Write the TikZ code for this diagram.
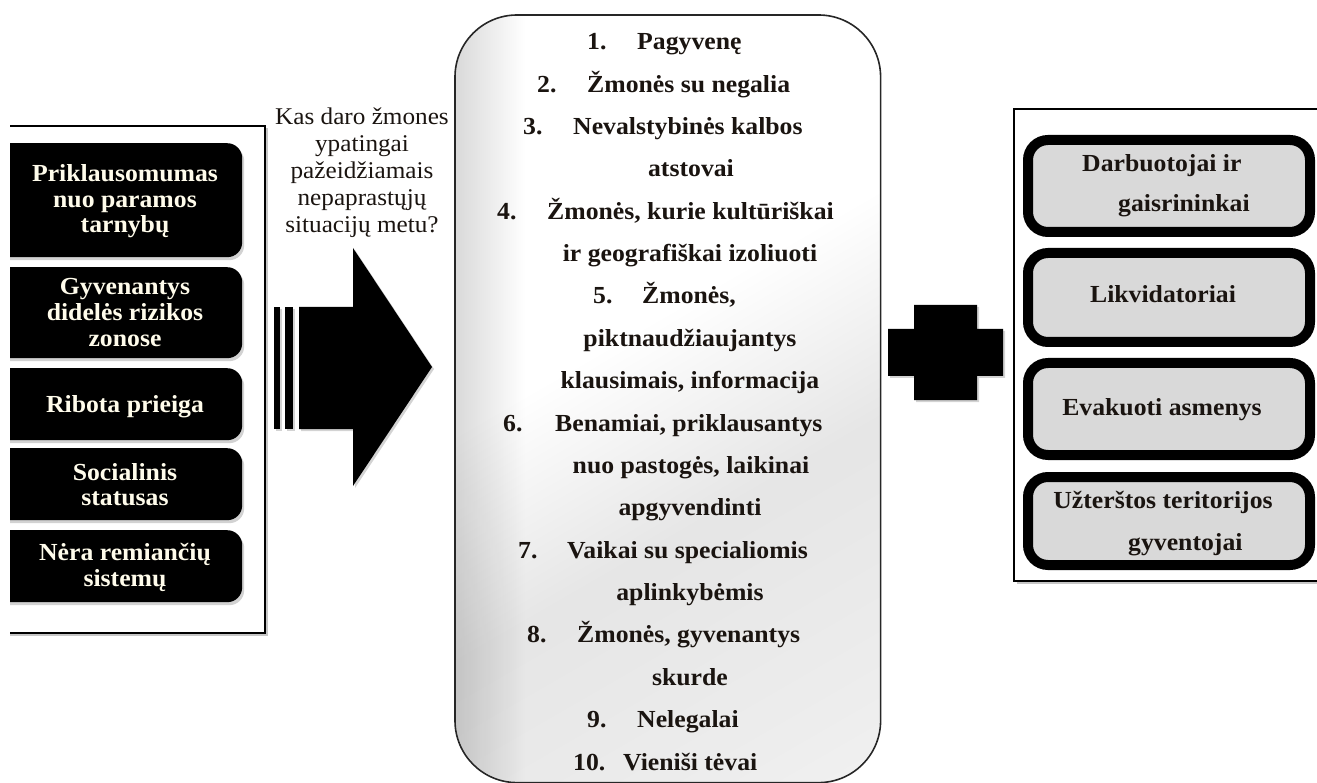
\documentclass[tikz,border=0pt]{standalone}
\usepackage{fontspec}
\setmainfont{Liberation Serif}[FakeStretch=1.05]
\usetikzlibrary{shadows,fadings}
\pgfdeclarehorizontalshading{panelshade}{100bp}{color(0bp)=(white); color(44bp)=(white); color(60bp)=(black!10); color(78bp)=(black!7); color(100bp)=(black!2)}
\definecolor{ink}{HTML}{1A1410}
\definecolor{cream}{HTML}{FFFCEB}
\definecolor{boxgray}{HTML}{D9D9D9}
\begin{document}
\begin{tikzpicture}[x=1pt,y=-1pt,
  bold/.style={inner sep=0pt, font=\fontsize{24.5}{26}\selectfont\bfseries, text=ink},
  plain/.style={inner sep=0pt, font=\fontsize{24}{26}\selectfont, text=ink},
  whitetxt/.style={bold, text=cream},
  frame/.style={draw=black, line width=2, fill=white, inner sep=0pt,
    drop shadow={shadow xshift=2.5pt, shadow yshift=-2.5pt, opacity=.45}},
  darkbox/.style={fill=black, rounded corners=15, inner sep=0pt, minimum width=252,
    drop shadow={shadow xshift=2pt, shadow yshift=-3pt, opacity=.35}},
  graybox/.style={draw=black, line width=10, fill=boxgray, rounded corners=20,
    inner sep=0pt, minimum width=282},
  shape shadow/.style={drop shadow={shadow xshift=2pt, shadow yshift=-2pt, opacity=.35}}
]
\useasboundingbox (0,0) rectangle (1317,783);
\clip (10,0) rectangle (1317,783);

% outer frames
\node[frame, anchor=north west, minimum width=284, minimum height=507] (lframe) at (-20,125) {};
\node[frame, anchor=north west, minimum width=330, minimum height=472] (rframe) at (1013,108) {};

% left column of dark boxes
\node[darkbox, anchor=north west, minimum height=114] (b1) at (-10,143) {};
\node[darkbox, anchor=north west, minimum height=91]  (b2) at (-10,267) {};
\node[darkbox, anchor=north west, minimum height=72]  (b3) at (-10,368) {};
\node[darkbox, anchor=north west, minimum height=72]  (b4) at (-10,448) {};
\node[darkbox, anchor=north west, minimum height=72]  (b5) at (-10,530) {};

\node[whitetxt, anchor=base] (b1a) at (125,182)   {Priklausomumas};
\node[whitetxt, anchor=base] (b1b) at (125,207.5) {nuo paramos};
\node[whitetxt, anchor=base] (b1c) at (125,233)   {tarnybų};
\node[whitetxt, anchor=base] (b2a) at (125,295)   {Gyvenantys};
\node[whitetxt, anchor=base] (b2b) at (125,321)   {didelės rizikos};
\node[whitetxt, anchor=base] (b2c) at (125,347)   {zonose};
\node[whitetxt, anchor=base] (b3a) at (125,413)   {Ribota prieiga};
\node[whitetxt, anchor=base] (b4a) at (125,480)   {Socialinis};
\node[whitetxt, anchor=base] (b4b) at (125,505)   {statusas};
\node[whitetxt, anchor=base] (b5a) at (125,560)   {Nėra remiančių};
\node[whitetxt, anchor=base] (b5b) at (125,586)   {sistemų};

% question above the arrow
\node[plain, anchor=base] (q1) at (362,125)   {Kas daro žmones};
\node[plain, anchor=base] (q2) at (362,151.8) {ypatingai};
\node[plain, anchor=base] (q3) at (362,178.6) {pažeidžiamais};
\node[plain, anchor=base] (q4) at (362,205.4) {nepaprastųjų};
\node[plain, anchor=base] (q5) at (362,232.2) {situacijų metu?};

% striped block arrow
\fill[shape shadow] (274,307) rectangle (280,429);
\fill[shape shadow] (285,307) rectangle (293,429);
\fill[shape shadow] (299,307) -- (353,307) -- (353,248) -- (432,367)
  -- (353,486) -- (353,429) -- (299,429) -- cycle;

% central list panel
\node[line width=1.6, rounded corners=62, shade, shading=panelshade,
  shading angle=-60, anchor=north west, minimum width=424, minimum height=766,
  inner sep=0pt] (panel) at (455,15) {};
\begin{scope}
  \clip[rounded corners=62] (panel.north west) rectangle (panel.south east);
  \fill[black, opacity=.15, path fading=east] (panel.north west) rectangle ([xshift=70pt]panel.south west);
\end{scope}
\draw[black!85, line width=1.6, rounded corners=62] (panel.north west) rectangle (panel.south east);

\node[bold, anchor=base west] (n1)  at (587,50)    {1.};
\node[bold, anchor=base west] (t1)  at (637,50)    {Pagyvenę};
\node[bold, anchor=base west] (n2)  at (537,92.4)  {2.};
\node[bold, anchor=base west] (t2)  at (587,92.4)  {Žmonės su negalia};
\node[bold, anchor=base west] (n3)  at (523,134.7) {3.};
\node[bold, anchor=base west] (t3)  at (573,134.7) {Nevalstybinės kalbos};
\node[bold, anchor=base]      (t3b) at (691,177)   {atstovai};
\node[bold, anchor=base west] (n4)  at (497,219.4) {4.};
\node[bold, anchor=base west] (t4)  at (547,219.4) {Žmonės, kurie kultūriškai};
\node[bold, anchor=base]      (t4b) at (690,261.8) {ir geografiškai izoliuoti};
\node[bold, anchor=base west] (n5)  at (593,304)   {5.};
\node[bold, anchor=base west] (t5)  at (642,304)   {Žmonės,};
\node[bold, anchor=base]      (t5b) at (690,346.5) {piktnaudžiaujantys};
\node[bold, anchor=base]      (t5c) at (690,388.8) {klausimais, informacija};
\node[bold, anchor=base west] (n6)  at (503,431)   {6.};
\node[bold, anchor=base west] (t6)  at (555,431)   {Benamiai, priklausantys};
\node[bold, anchor=base]      (t6b) at (691,473.5) {nuo pastogės, laikinai};
\node[bold, anchor=base]      (t6c) at (690,515.9) {apgyvendinti};
\node[bold, anchor=base west] (n7)  at (518,558)   {7.};
\node[bold, anchor=base west] (t7)  at (567,558)   {Vaikai su specialiomis};
\node[bold, anchor=base]      (t7b) at (690,600.6) {aplinkybėmis};
\node[bold, anchor=base west] (n8)  at (527,642.9) {8.};
\node[bold, anchor=base west] (t8)  at (577,642.9) {Žmonės, gyvenantys};
\node[bold, anchor=base]      (t8b) at (690,685)   {skurde};
\node[bold, anchor=base west] (n9)  at (587,727.6) {9.};
\node[bold, anchor=base west] (t9)  at (637,727.6) {Nelegalai};
\node[bold, anchor=base west] (n10) at (573,770)   {10.};
\node[bold, anchor=base west] (t10) at (623,770)   {Vieniši tėvai};

% plus sign
\fill[shape shadow] (914,305) -- (977,305) -- (977,329) -- (1003,329) -- (1003,376)
  -- (977,376) -- (977,400) -- (914,400) -- (914,376) -- (888,376) -- (888,329)
  -- (914,329) -- cycle;

% right column of outlined boxes
\node[graybox, anchor=north west, minimum height=92] (r1) at (1023,135) {};
\node[graybox, anchor=north west, minimum height=89] (r2) at (1023,248) {};
\node[graybox, anchor=north west, minimum height=92] (r3) at (1023,358) {};
\node[graybox, anchor=north west, minimum height=88] (r4) at (1023,472) {};

\node[bold, anchor=base west] (r1a) at (1082,172) {Darbuotojai ir};
\node[bold, anchor=base west] (r1b) at (1118,212) {gaisrininkai};
\node[bold, anchor=base]      (r2a) at (1163,303) {Likvidatoriai};
\node[bold, anchor=base]      (r3a) at (1162,415) {Evakuoti asmenys};
\node[bold, anchor=base]      (r4a) at (1163,508) {Užterštos teritorijos};
\node[bold, anchor=base west] (r4b) at (1128,550) {gyventojai};
\end{tikzpicture}
\end{document}
